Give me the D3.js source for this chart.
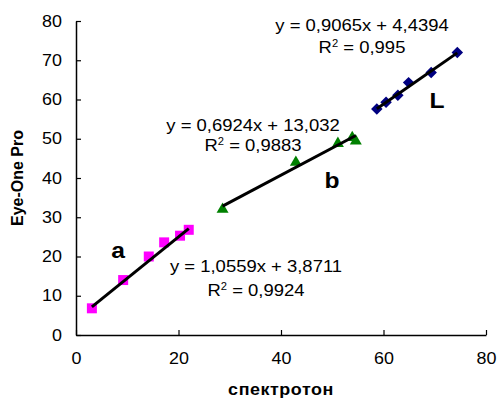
<!DOCTYPE html>
<html>
<head>
<meta charset="utf-8">
<script src="https://cdn.jsdelivr.net/npm/d3@7"></script>
<style>
  html, body { margin: 0; padding: 0; background: #fff; }
  svg { display: block; font-family: "Liberation Sans", Arial, sans-serif; }
</style>
</head>
<body>
<svg id="chart" width="498" height="399"></svg>
<script>
// Measurements: спектротон (x) vs Eye-One Pro (y)
const seriesA_x = [3.1, 9.2, 14.2, 17.2, 20.3, 22.0];
const seriesA_y = [6.8, 14.0, 20.0, 23.6, 25.3, 26.8];
const seriesB_x = [28.6, 42.9, 51.1, 53.9, 54.6];
const seriesB_y = [32.0, 44.0, 48.8, 50.3, 49.4];
const seriesL_x = [58.7, 60.5, 62.8, 64.9, 69.3, 74.4];
const seriesL_y = [57.6, 59.3, 61.1, 64.3, 66.9, 72.0];

// Linear trend coefficients (slope, intercept) and R² per group
const slopes = [1.0559, 0.6924, 0.9065];
const intercepts = [3.8711, 13.032, 4.4394];
const r2 = ["0,9924", "0,9883", "0,995"];
const groupLabels = ["a", "b", "L"];

const xTicks = [0, 20, 40, 60, 80];
const yTicks = [0, 10, 20, 30, 40, 50, 60, 70, 80];

// Glyphs are drawn slightly wide
const SX = 1.12;

const svg = d3.select("#chart");
const x = d3.scaleLinear().domain([0, 80]).range([76, 486]);
const y = d3.scaleLinear().domain([0, 80]).range([335, 21]);

// Axes with inside ticks
const xAxis = d3.axisBottom(x).tickValues(xTicks).tickSize(-5).tickPadding(18).tickSizeOuter(0);
const yAxis = d3.axisLeft(y).tickValues(yTicks).tickSize(-5).tickPadding(12.5).tickSizeOuter(0);

const gx = svg.append("g").attr("transform", `translate(0,${y(0)})`).call(xAxis);
const gy = svg.append("g").attr("transform", `translate(${x(0)},0)`).call(yAxis);
[gx, gy].forEach(g => {
  g.select(".domain").attr("stroke", "#000").attr("stroke-width", 1.5);
  g.selectAll(".tick line").attr("stroke", "#000").attr("stroke-width", 1.2);
  g.selectAll(".tick text").attr("fill", "#000").attr("font-size", 16)
    .attr("font-family", "Liberation Sans, Arial, sans-serif")
    .attr("transform", `scale(${SX},1)`);
});

// Text helper with horizontal stretch around its anchor point
function label(px, py, size, weight) {
  return svg.append("text")
    .attr("transform", `translate(${px},${py}) scale(${SX},1)`)
    .attr("text-anchor", "middle")
    .attr("font-size", size)
    .attr("font-weight", weight || "normal");
}

// Axis titles
label(281, 395, 16, "bold").attr("letter-spacing", 0.5).text("спектротон");

svg.append("text")
  .attr("transform", "translate(23,178) rotate(-90) scale(1,1.06)")
  .attr("text-anchor", "middle")
  .attr("font-size", 16).attr("font-weight", "bold")
  .text("Eye-One Pro");

const groups = [
  { xs: seriesA_x, ys: seriesA_y, color: "#FF00FF", symbol: d3.symbolSquare, size: 100, rot: 0 },
  { xs: seriesB_x, ys: seriesB_y, color: "#008000", symbol: d3.symbolTriangle, size: 62, rot: 0 },
  { xs: seriesL_x, ys: seriesL_y, color: "#000080", symbol: d3.symbolSquare, size: 66, rot: 45 }
];

// Markers
groups.forEach(gr => {
  const pts = gr.xs.map((v, i) => [v, gr.ys[i]]);
  svg.append("g").selectAll("path").data(pts).join("path")
    .attr("d", d3.symbol().type(gr.symbol).size(gr.size))
    .attr("transform", d => `translate(${x(d[0])},${y(d[1])}) rotate(${gr.rot})`)
    .attr("fill", gr.color);
});

// Trend lines over each group's x range
const line = d3.line().x(d => x(d[0])).y(d => y(d[1]));
groups.forEach((gr, i) => {
  const [x0, x1] = d3.extent(gr.xs);
  const pts = [x0, x1].map(v => [v, slopes[i] * v + intercepts[i]]);
  svg.append("path").attr("d", line(pts))
    .attr("fill", "none").attr("stroke", "#000").attr("stroke-width", 3);
});

// Equation annotations
const fmt = v => String(v).replace(".", ",");
const eqPos = [[256, 272, 296], [253, 131, 151], [362, 31, 53]];
groups.forEach((gr, i) => {
  const [cx, y1, y2] = eqPos[i];
  label(cx, y1, 16.5).text(`y = ${fmt(slopes[i])}x + ${fmt(intercepts[i])}`);
  const t = label(cx, y2, 16.5);
  t.append("tspan").text("R");
  t.append("tspan").attr("font-size", 10).attr("dy", -6).text("2");
  t.append("tspan").attr("dy", 6).text(` = ${r2[i]}`);
});

// Group labels
const labelPos = [[118, 258], [332, 188], [437, 108]];
groupLabels.forEach((s, i) => {
  label(labelPos[i][0], labelPos[i][1], 22, "bold").text(s);
});
</script>
</body>
</html>
